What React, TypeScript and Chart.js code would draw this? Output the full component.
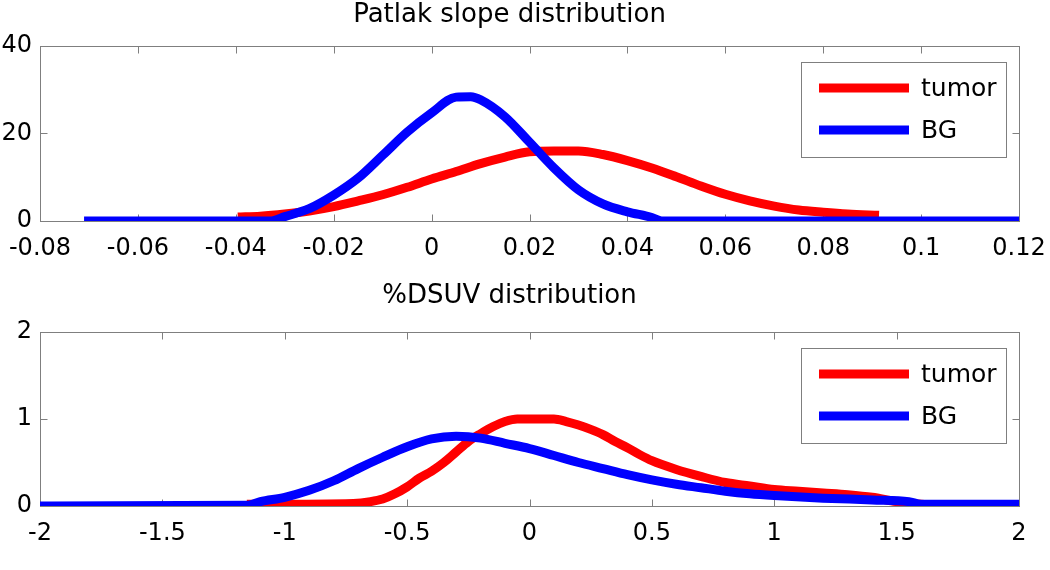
import React, { useEffect, useRef } from "react";
import { Chart, registerables } from "chart.js";

Chart.register(...registerables);

// ---------- data ----------
const patlakTitle = "Patlak slope distribution";
const dsuvTitle = "%DSUV distribution";
const legendLabels = ["tumor", "BG"];

const patlakXTicks = [-0.08, 0.12, 0.02]; // min, max, step
const patlakYTicks = [0, 40, 20];
const dsuvXTicks = [-2, 2, 0.5];
const dsuvYTicks = [0, 2, 1];

const patlakTumorX = [-0.0396, -0.035, -0.03, -0.025, -0.02, -0.015, -0.01, -0.005, 0, 0.005, 0.01, 0.015, 0.02, 0.025, 0.03, 0.035, 0.04, 0.045, 0.05, 0.055, 0.06, 0.065, 0.07, 0.075, 0.08, 0.085, 0.0914];
const patlakTumorY = [0.9, 1.1, 1.6, 2.3, 3.3, 4.6, 6.0, 7.7, 9.6, 11.3, 13.1, 14.6, 15.8, 16.0, 16.0, 15.2, 13.8, 12.1, 10.1, 8.0, 6.1, 4.6, 3.4, 2.5, 2.0, 1.6, 1.3];

const patlakBgX = [-0.071, -0.033, -0.03, -0.025, -0.02, -0.015, -0.01, -0.005, 0, 0.005, 0.008, 0.01, 0.015, 0.02, 0.025, 0.03, 0.035, 0.04, 0.045, 0.047, 0.12];
const patlakBgY = [0, 0, 1.0, 2.8, 5.9, 9.8, 15.0, 20.3, 24.7, 28.3, 28.4, 27.7, 23.8, 18.0, 12.1, 7.1, 3.9, 2.1, 0.8, 0, 0];

const dsuvTumorX = [-1.155, -0.72, -0.65, -0.6, -0.55, -0.5, -0.45, -0.4, -0.35, -0.3, -0.25, -0.2, -0.15, -0.1, -0.05, 0.1, 0.15, 0.2, 0.25, 0.3, 0.35, 0.4, 0.45, 0.5, 0.6, 0.7, 0.8, 0.9, 1.0, 1.1, 1.2, 1.3, 1.4, 1.5, 1.6, 1.85, 2.0];
const dsuvTumorY = [0.02, 0.03, 0.05, 0.08, 0.14, 0.22, 0.32, 0.4, 0.5, 0.62, 0.74, 0.83, 0.91, 0.97, 1.0, 1.0, 0.97, 0.93, 0.88, 0.82, 0.74, 0.67, 0.59, 0.52, 0.42, 0.34, 0.27, 0.23, 0.19, 0.17, 0.15, 0.13, 0.1, 0.05, 0.02, 0, -0.02];

const dsuvBgX = [-2, -1.15, -1.1, -1.0, -0.9, -0.8, -0.7, -0.6, -0.5, -0.4, -0.3, -0.2, -0.1, 0, 0.1, 0.2, 0.3, 0.4, 0.5, 0.6, 0.7, 0.8, 0.9, 1.0, 1.2, 1.4, 1.55, 1.6, 2.0];
const dsuvBgY = [0, 0.01, 0.05, 0.1, 0.18, 0.29, 0.43, 0.56, 0.68, 0.77, 0.8, 0.78, 0.72, 0.66, 0.58, 0.5, 0.43, 0.36, 0.3, 0.25, 0.21, 0.17, 0.14, 0.12, 0.09, 0.07, 0.05, 0.02, 0.02];

// ---------- styling ----------
const FONT = '"DejaVu Sans", "Liberation Sans", Arial, sans-serif';
const FRAME = "#7f7f7f";
const RED = "#ff0000";
const BLUE = "#0000ff";

const fmt = (decimals: number) => (v: any) => String(Number(Number(v).toFixed(decimals)));

const matlabFrame = {
  id: "matlabFrame",
  beforeDatasetsDraw(chart: any) {
    const { ctx, chartArea: a, scales } = chart;
    ctx.save();
    ctx.strokeStyle = FRAME;
    ctx.lineWidth = 1;
    const L = 7;
    const seg = (x1: number, y1: number, x2: number, y2: number) => {
      ctx.beginPath();
      ctx.moveTo(x1, y1);
      ctx.lineTo(x2, y2);
      ctx.stroke();
    };
    const l = Math.round(a.left) + 0.5;
    const r = Math.round(a.right) + 0.5;
    const t = Math.round(a.top) + 0.5;
    const b = Math.round(a.bottom) + 0.5;
    ctx.strokeRect(l, t, r - l, b - t);
    scales.x.ticks.forEach((tk: any) => {
      const px = Math.round(scales.x.getPixelForValue(tk.value)) + 0.5;
      seg(px, b, px, b - L);
      seg(px, t, px, t + L);
    });
    scales.y.ticks.forEach((tk: any) => {
      const py = Math.round(scales.y.getPixelForValue(tk.value)) + 0.5;
      seg(l, py, l + L, py);
      seg(r, py, r - L, py);
    });
    ctx.restore();
  },
};

const boxLegend = {
  id: "boxLegend",
  afterDatasetsDraw(chart: any, _args: any, opts: any) {
    const { ctx, chartArea: a } = chart;
    const w = 205;
    const h = 95;
    const x0 = Math.round(a.right - 13 - w);
    const y0 = Math.round(a.top + 16);
    ctx.save();
    ctx.fillStyle = "#ffffff";
    ctx.fillRect(x0, y0, w, h);
    ctx.strokeStyle = FRAME;
    ctx.lineWidth = 1;
    ctx.strokeRect(x0 + 0.5, y0 + 0.5, w, h);
    (opts.items || []).forEach((it: any, i: number) => {
      const y = y0 + 26 + i * 42;
      ctx.strokeStyle = it.color;
      ctx.lineWidth = 9;
      ctx.lineCap = "butt";
      ctx.beginPath();
      ctx.moveTo(x0 + 18, y);
      ctx.lineTo(x0 + 108, y);
      ctx.stroke();
      ctx.fillStyle = "#000000";
      ctx.font = `25px ${FONT}`;
      ctx.textBaseline = "middle";
      ctx.textAlign = "left";
      ctx.fillText(it.text, x0 + 120, y + 1);
    });
    ctx.restore();
  },
};

function makeConfig(opts: {
  title: string;
  tumorX: number[];
  tumorY: number[];
  bgX: number[];
  bgY: number[];
  xTicks: number[];
  yTicks: number[];
  xDec: number;
  titlePadTop: number;
  titlePadBottom: number;
  xAxisHeight: number;
}): any {
  const line = (xs: number[], ys: number[], color: string, order: number, label: string) => ({
    label,
    data: xs.map((x, i) => ({ x, y: ys[i] })),
    borderColor: color,
    backgroundColor: color,
    borderWidth: 9,
    pointRadius: 0,
    cubicInterpolationMode: "monotone",
    fill: false,
    borderCapStyle: "butt",
    borderJoinStyle: "round",
    order,
  });
  return {
    type: "line",
    data: {
      datasets: [
        line(opts.tumorX, opts.tumorY, RED, 1, legendLabels[0]),
        line(opts.bgX, opts.bgY, BLUE, 0, legendLabels[1]),
      ],
    },
    options: {
      responsive: false,
      animation: false,
      devicePixelRatio: 1,
      layout: { padding: { left: 0, right: 31, top: 0, bottom: 0 } },
      plugins: {
        legend: { display: false },
        tooltip: { enabled: false },
        title: {
          display: true,
          text: opts.title,
          color: "#000000",
          font: { family: FONT, size: 26, weight: "normal", lineHeight: 1.15 },
          padding: { top: opts.titlePadTop, bottom: opts.titlePadBottom },
        },
        boxLegend: {
          items: [
            { text: legendLabels[0], color: RED },
            { text: legendLabels[1], color: BLUE },
          ],
        },
      },
      scales: {
        x: {
          type: "linear",
          min: opts.xTicks[0],
          max: opts.xTicks[1],
          grid: { display: false, drawTicks: false, tickLength: 0 },
          border: { display: false },
          ticks: {
            stepSize: opts.xTicks[2],
            color: "#000000",
            font: { family: FONT, size: 24 },
            padding: 13,
            maxRotation: 0,
            autoSkip: false,
            callback: fmt(opts.xDec),
          },
          afterFit: (s: any) => {
            s.height = opts.xAxisHeight;
            s.paddingLeft = 0;
            s.paddingRight = 0;
          },
        },
        y: {
          type: "linear",
          min: opts.yTicks[0],
          max: opts.yTicks[1],
          grid: { display: false, drawTicks: false, tickLength: 0 },
          border: { display: false },
          ticks: {
            stepSize: opts.yTicks[2],
            color: "#000000",
            font: { family: FONT, size: 24 },
            padding: 8,
            callback: fmt(0),
          },
          afterFit: (s: any) => {
            s.width = 40;
          },
        },
      },
    },
    plugins: [matlabFrame, boxLegend],
  };
}

function ChartCanvas(props: { config: any; top: number; height: number }) {
  const ref = useRef<HTMLCanvasElement | null>(null);
  useEffect(() => {
    if (!ref.current) return;
    const chart = new Chart(ref.current, props.config);
    return () => chart.destroy();
  }, []);
  return (
    <canvas
      ref={ref}
      width={1050}
      height={props.height}
      style={{ position: "absolute", left: 0, top: props.top, width: 1050, height: props.height }}
    />
  );
}

export default function App() {
  const topCfg = makeConfig({
    title: patlakTitle,
    tumorX: patlakTumorX,
    tumorY: patlakTumorY,
    bgX: patlakBgX,
    bgY: patlakBgY,
    xTicks: patlakXTicks,
    yTicks: patlakYTicks,
    xDec: 2,
    titlePadTop: 0,
    titlePadBottom: 16,
    xAxisHeight: 59,
  });
  const botCfg = makeConfig({
    title: dsuvTitle,
    tumorX: dsuvTumorX,
    tumorY: dsuvTumorY,
    bgX: dsuvBgX,
    bgY: dsuvBgY,
    xTicks: dsuvXTicks,
    yTicks: dsuvYTicks,
    xDec: 1,
    titlePadTop: 1,
    titlePadBottom: 21,
    xAxisHeight: 64,
  });
  return (
    <div style={{ position: "absolute", left: 0, top: 0, width: 1050, height: 570, background: "#ffffff", overflow: "hidden" }}>
      <ChartCanvas config={topCfg} top={0} height={280} />
      <ChartCanvas config={botCfg} top={280} height={290} />
    </div>
  );
}
